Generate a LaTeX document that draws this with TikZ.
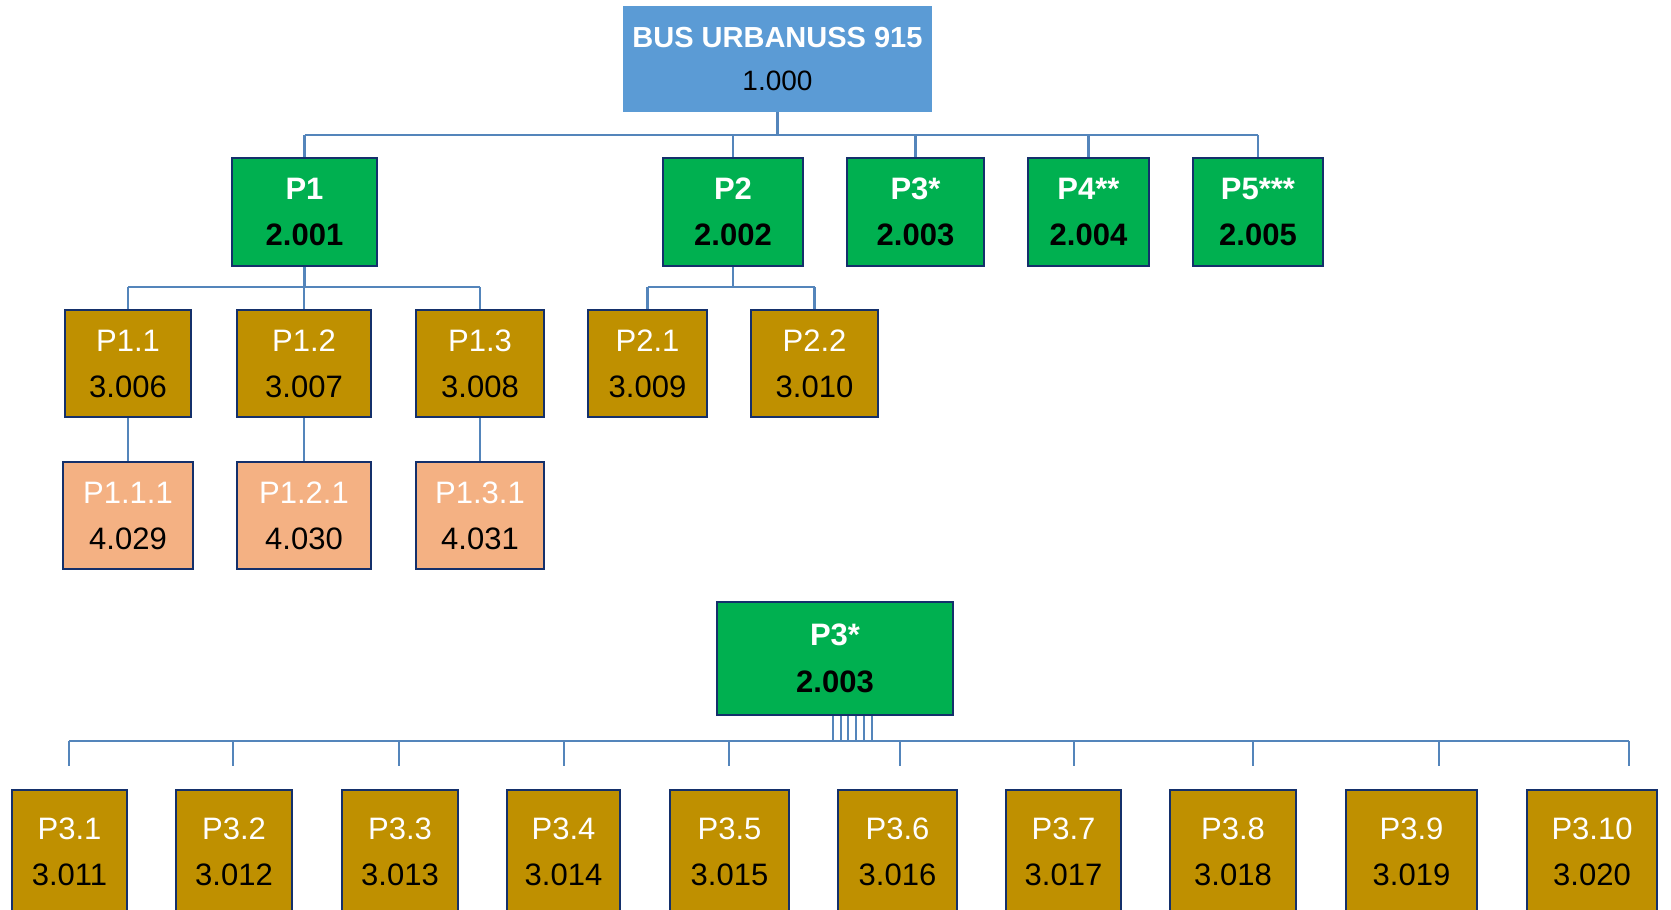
\documentclass[tikz,border=0pt]{standalone}
\usepackage{fontspec}
\setmainfont{Liberation Sans}
\definecolor{topc}{HTML}{5B9BD5}
\definecolor{greenc}{HTML}{00B050}
\definecolor{goldc}{HTML}{BF9000}
\definecolor{peachc}{HTML}{F4B183}
\definecolor{bordc}{HTML}{14306B}
\definecolor{connc}{HTML}{5485BB}
\newcommand\boxtxt[2]{\textcolor{white}{#1}\\\textcolor{black}{#2}}
\tikzset{
  box/.style={draw=bordc, line width=2pt, inner sep=0pt, align=center},
  topbox/.style={box, draw=topc, fill=topc, font=\fontsize{28}{43}\selectfont},
  lvltwo/.style={box, fill=greenc, font=\fontsize{31}{46}\selectfont\bfseries},
  lvlthree/.style={box, fill=goldc, font=\fontsize{31}{46}\selectfont},
  lvlfour/.style={box, fill=peachc, font=\fontsize{31}{46}\selectfont},
  conn/.style={draw=connc, line width=2.5pt},
}
\begin{document}
\begin{tikzpicture}[x=1pt,y=-1pt]
\useasboundingbox (0,0) rectangle (1671,910);
\clip (0,0) rectangle (1671,910);
\fill[white] (0,0) rectangle (1671,910);

% top
\node[topbox, minimum width=307pt, minimum height=104pt] (top) at (777.5,59)
  {\textcolor{white}{\fontsize{29}{43}\selectfont\bfseries BUS URBANUSS 915}\\\textcolor{black}{1.000}};

% level 2
\node[lvltwo, minimum width=145pt, minimum height=108pt] (p1) at (304.5,212) {\boxtxt{P1}{2.001}};
\node[lvltwo, minimum width=140pt, minimum height=108pt] (p2) at (733,212) {\boxtxt{P2}{2.002}};
\node[lvltwo, minimum width=137pt, minimum height=108pt] (p3) at (915.5,212) {\boxtxt{P3*}{2.003}};
\node[lvltwo, minimum width=121pt, minimum height=108pt] (p4) at (1088.5,212) {\boxtxt{P4**}{2.004}};
\node[lvltwo, minimum width=130pt, minimum height=108pt] (p5) at (1258,212) {\boxtxt{P5***}{2.005}};

% level 3
\node[lvlthree, minimum width=126pt, minimum height=107pt] (p11) at (128,363.5) {\boxtxt{P1.1}{3.006}};
\node[lvlthree, minimum width=134pt, minimum height=107pt] (p12) at (304,363.5) {\boxtxt{P1.2}{3.007}};
\node[lvlthree, minimum width=128pt, minimum height=107pt] (p13) at (480,363.5) {\boxtxt{P1.3}{3.008}};
\node[lvlthree, minimum width=119pt, minimum height=107pt] (p21) at (647.5,363.5) {\boxtxt{P2.1}{3.009}};
\node[lvlthree, minimum width=127pt, minimum height=107pt] (p22) at (814.5,363.5) {\boxtxt{P2.2}{3.010}};

% level 4
\node[lvlfour, minimum width=130pt, minimum height=107pt] (p111) at (128,515.5) {\boxtxt{P1.1.1}{4.029}};
\node[lvlfour, minimum width=134pt, minimum height=107pt] (p121) at (304,515.5) {\boxtxt{P1.2.1}{4.030}};
\node[lvlfour, minimum width=128pt, minimum height=107pt] (p131) at (480,515.5) {\boxtxt{P1.3.1}{4.031}};

% connectors upper tree
\coordinate (busa) at (0,135);
\coordinate (busb) at (0,287);
\draw[conn] (top.south) -- (top.south |- busa);
\draw[conn] (busa -| p1.north) -- (busa -| p5.north);
\foreach \n in {p1,p2,p3,p4,p5} \draw[conn] (busa -| \n.north) -- (\n.north);
\draw[conn] (p1.south) -- (p1.south |- busb);
\draw[conn] (busb -| p11.north) -- (busb -| p13.north);
\foreach \n in {p11,p12,p13} \draw[conn] (busb -| \n.north) -- (\n.north);
\draw[conn] (p2.south) -- (p2.south |- busb);
\draw[conn] (busb -| p21.north) -- (busb -| p22.north);
\foreach \n in {p21,p22} \draw[conn] (busb -| \n.north) -- (\n.north);
\draw[conn] (p11.south) -- (p111.north);
\draw[conn] (p12.south) -- (p121.north);
\draw[conn] (p13.south) -- (p131.north);

% lower tree
\node[lvltwo, minimum width=236pt, minimum height=113pt, font=\fontsize{31}{47.5}\selectfont\bfseries] (q3) at (835,658.5) {\boxtxt{P3*}{2.003}};

\node[lvlthree, minimum width=115pt, minimum height=124pt] (b1) at (69.5,852) {\boxtxt{P3.1}{3.011}};
\node[lvlthree, minimum width=116pt, minimum height=124pt] (b2) at (234,852) {\boxtxt{P3.2}{3.012}};
\node[lvlthree, minimum width=116pt, minimum height=124pt] (b3) at (400,852) {\boxtxt{P3.3}{3.013}};
\node[lvlthree, minimum width=113pt, minimum height=124pt] (b4) at (563.5,852) {\boxtxt{P3.4}{3.014}};
\node[lvlthree, minimum width=119pt, minimum height=124pt] (b5) at (729.5,852) {\boxtxt{P3.5}{3.015}};
\node[lvlthree, minimum width=119pt, minimum height=124pt] (b6) at (897.5,852) {\boxtxt{P3.6}{3.016}};
\node[lvlthree, minimum width=115pt, minimum height=124pt] (b7) at (1063.5,852) {\boxtxt{P3.7}{3.017}};
\node[lvlthree, minimum width=126pt, minimum height=124pt] (b8) at (1233,852) {\boxtxt{P3.8}{3.018}};
\node[lvlthree, minimum width=131pt, minimum height=124pt] (b9) at (1411.5,852) {\boxtxt{P3.9}{3.019}};
\node[lvlthree, minimum width=130pt, minimum height=124pt] (b10) at (1592,852) {\boxtxt{P3.10}{3.020}};

\coordinate (busc) at (0,741);
\foreach \dx in {-2,6,13,21,29,37}
  \draw[conn, line width=2pt] ([xshift=\dx pt]q3.south) -- ([xshift=\dx pt]q3.south |- busc);
\draw[conn] ([xshift=-0.5pt]busc -| b1.north) -- ([xshift=37pt]busc -| b10.north);
\foreach \n/\dx in {b1/-0.5,b2/-1,b3/-1,b4/0.5,b5/-0.5,b6/2.5,b7/10.5,b8/20,b9/27.5,b10/37}
  \draw[conn] ([xshift=\dx pt]busc -| \n.north) -- ([xshift=\dx pt, yshift=23pt]\n.north);
\end{tikzpicture}
\end{document}
